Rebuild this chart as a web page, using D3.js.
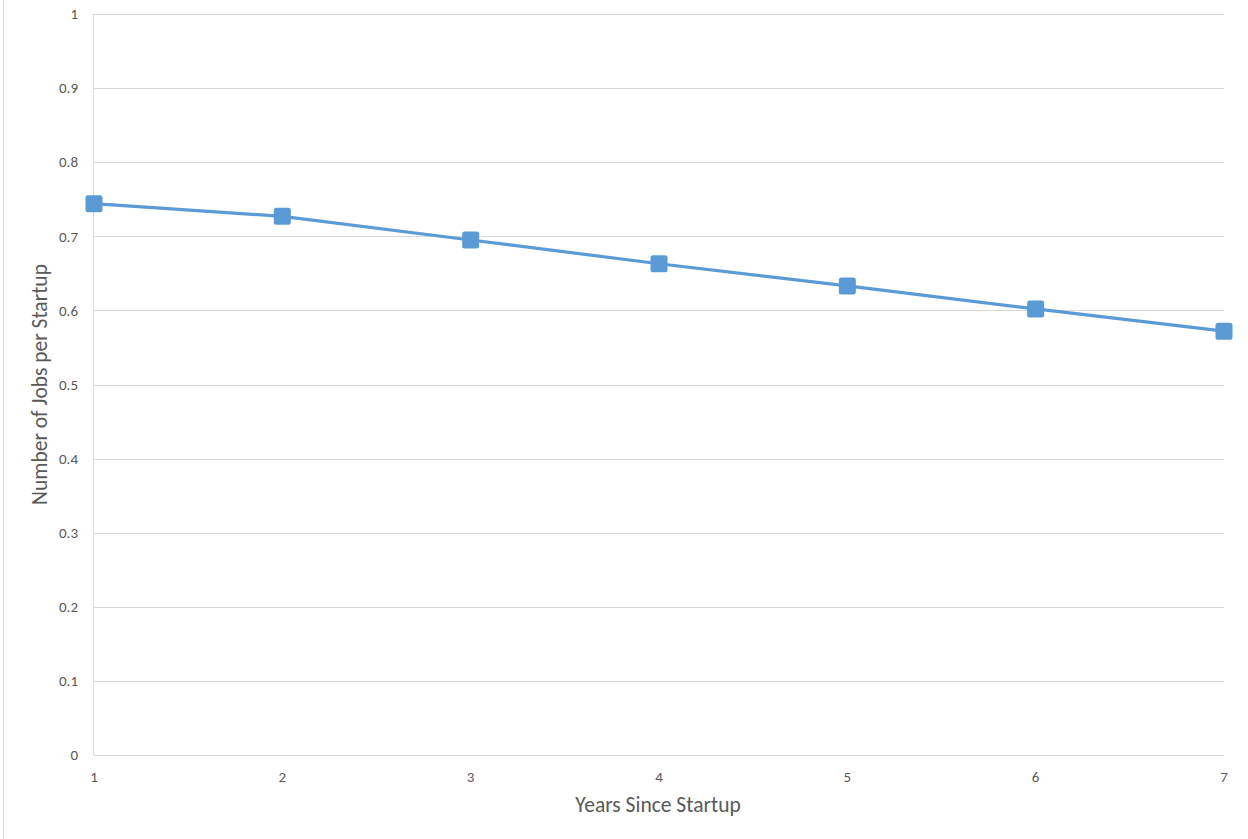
<!DOCTYPE html>
<html><head><meta charset="utf-8">
<script src="https://cdn.jsdelivr.net/npm/d3@7"></script>
<style>body{margin:0;background:#fff;}svg{display:block;}</style>
</head><body>
<script>
const years = [1, 2, 3, 4, 5, 6, 7];
const jobsPerStartup = [0.744, 0.727, 0.695, 0.663, 0.633, 0.602, 0.572];
const yTicks = [0, 0.1, 0.2, 0.3, 0.4, 0.5, 0.6, 0.7, 0.8, 0.9, 1];
const xLabel = "Years Since Startup";
const yLabel = "Number of Jobs per Startup";

const W = 1248, H = 839;
const m = {left: 94, right: 24, top: 14, bottom: 84};
const svg = d3.select("body").append("svg").attr("width", W).attr("height", H);
const font = "Carlito, 'Open Sans', 'Liberation Sans', sans-serif";

svg.append("line").attr("x1", 3.5).attr("x2", 3.5).attr("y1", 0).attr("y2", H)
  .attr("stroke", "#d9d9d9").attr("stroke-width", 1);

const x = d3.scaleLinear().domain([1, 7]).range([m.left, W - m.right]);
const y = d3.scaleLinear().domain([0, 1]).range([H - m.bottom, m.top]);

const g = svg.append("g");
g.selectAll("line.grid").data(yTicks).join("line")
  .attr("x1", m.left).attr("x2", W - m.right)
  .attr("y1", d => Math.round(y(d)) + 0.5).attr("y2", d => Math.round(y(d)) + 0.5)
  .attr("stroke", "#d9d9d9").attr("stroke-width", 1);
g.append("line").attr("x1", m.left - 0.5).attr("x2", m.left - 0.5)
  .attr("y1", y(1)).attr("y2", y(0)).attr("stroke", "#d9d9d9");

g.selectAll("text.yt").data(yTicks).join("text")
  .attr("x", m.left - 16).attr("y", d => y(d)).attr("dy", "0.35em")
  .attr("text-anchor", "end").attr("font-family", font).attr("font-size", 15)
  .attr("fill", "#595959").text(d => d3.format("~g")(d));
g.selectAll("text.xt").data(years).join("text")
  .attr("x", d => x(d)).attr("y", y(0) + 27)
  .attr("text-anchor", "middle").attr("font-family", font).attr("font-size", 15)
  .attr("fill", "#595959").text(d => d);

svg.append("text").attr("x", (m.left + W - m.right) / 2 - 1).attr("y", y(0) + 57)
  .attr("text-anchor", "middle").attr("font-family", font).attr("font-size", 21.5)
  .attr("fill", "#595959").text(xLabel);
svg.append("text").attr("transform", `translate(47,${(y(0) + y(1)) / 2}) rotate(-90)`)
  .attr("text-anchor", "middle").attr("font-family", font).attr("font-size", 21.5)
  .attr("fill", "#595959").text(yLabel);

const data = years.map((d, i) => ({x: d, y: jobsPerStartup[i]}));
const color = "#5b9bd5";
svg.append("path").datum(data)
  .attr("d", d3.line().x(d => x(d.x)).y(d => y(d.y)))
  .attr("fill", "none").attr("stroke", color).attr("stroke-width", 3.2);
const s = 17;
svg.selectAll("rect.mk").data(data).join("rect")
  .attr("x", d => x(d.x) - s / 2).attr("y", d => y(d.y) - s / 2)
  .attr("width", s).attr("height", s).attr("rx", 2.5)
  .attr("fill", color);
</script>
</body></html>
